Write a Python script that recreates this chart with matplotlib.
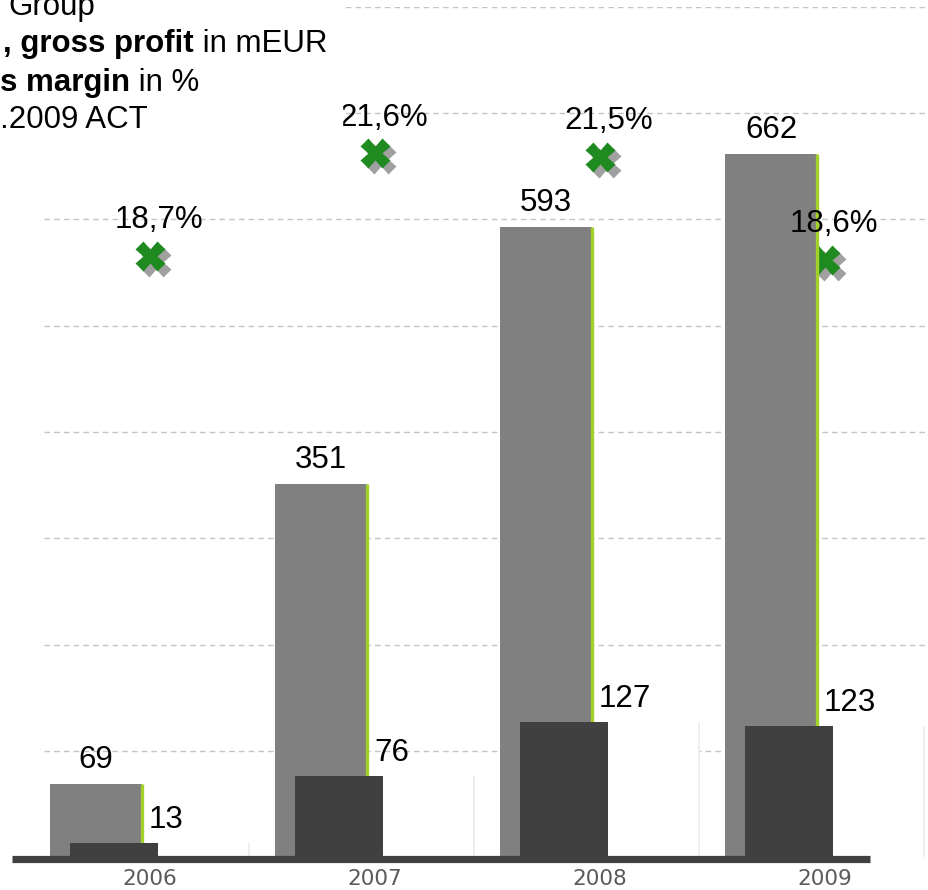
import numpy as np
import matplotlib
matplotlib.use('Agg')
import matplotlib.pyplot as plt
from matplotlib.patches import Rectangle
import matplotlib.transforms as mtransforms

# data
years = ['2006', '2007', '2008', '2009']
revenues = [69, 351, 593, 662]
gross_profit = [13, 76, 127, 123]
gross_margin = [18.7, 21.6, 21.5, 18.6]
margin_labels = ['18,7%', '21,6%', '21,5%', '18,6%']

plt.rcParams['font.family'] = ['Liberation Sans', 'DejaVu Sans']

W, H = 929, 890
fig = plt.figure(figsize=(W / 100, H / 100), dpi=100)

# margin axis underneath, bar axis on top (bars hide the markers a bit)
ax_m = fig.add_axes([0, 33 / H, 1, 850 / H])
ax = ax_m.twinx()

x = np.arange(len(years))
ax_m.set_xlim(-0.667, 3.462)
ax.set_ylim(0, 800)
ax_m.set_ylim(1.78, 25.72)

for a in (ax, ax_m):
    for s in a.spines.values():
        s.set_visible(False)
    a.set_yticks([])
ax.patch.set_visible(False)

# dashed grid
for g in np.arange(100, 900, 100):
    ax.hlines(g, x[0] - 0.47, 3.462, color='#c4c4c4', lw=1,
              linestyle=(0, (4, 3)), zorder=1)

# white "shadow" boxes next to the gross profit bars
ax.bar(x + 0.03, gross_profit, width=0.41, align='edge', color='white',
       edgecolor='none', zorder=2.5)
ax.vlines(x + 0.44, 0, gross_profit, color='#ececec', lw=1.2, zorder=2.6)

# revenues
ax.bar(x - 0.24, revenues, width=0.41, color='#808080', zorder=3)
ax.vlines(x - 0.24 + 0.205, 0, revenues, color='#a2d22a', lw=2.4, zorder=4)

# gross profit
ax.bar(x - 0.16, gross_profit, width=0.39, color='#404040', zorder=5)

# base line
ax.hlines(-1.5, x[0] - 0.613, x[-1] + 0.2, color='#404040', lw=5.2,
          zorder=6, clip_on=False)

fs_val = 22.5
for i in range(len(x)):
    ax.text(x[i] - 0.24, revenues[i] + 15, str(revenues[i]), ha='center',
            va='baseline', fontsize=fs_val, zorder=7)
    ax.text(x[i] - 0.005, gross_profit[i] + 14, str(gross_profit[i]),
            ha='left', va='baseline', fontsize=fs_val, zorder=7)

# gross margin markers with shadow
shadow = ax_m.transData + mtransforms.ScaledTranslation(6 / 100, -6 / 100, fig.dpi_scale_trans)
ax_m.plot(x, gross_margin, 'X', ms=21, color='#a0a0a0', mec='none',
          linestyle='none', transform=shadow, zorder=2)
ax_m.plot(x, gross_margin, 'X', ms=21, color='#1f8a1f', mec='none',
          linestyle='none', zorder=3)
# labels go on the top axes so they sit over the bars
for i in range(len(x)):
    ax.annotate(margin_labels[i], (x[i], gross_margin[i]), xycoords=ax_m.transData,
                xytext=(6.5, 20), textcoords='offset points', ha='center',
                va='baseline', fontsize=fs_val, zorder=8)

ax_m.set_xticks(x, years)
ax_m.tick_params(axis='x', length=0, pad=8.5, labelsize=15.5, labelcolor='#5a5a5a')
for lab in ax_m.get_xticklabels():
    lab.set_family('DejaVu Sans')

# header (cut off on the left in the original)
fig.patches.append(Rectangle((0, 1 - 140 / H), 342 / W, 140 / H,
                             transform=fig.transFigure, color='white', zorder=10))
fs = 22.5
fig.text(8 / W, 1 - 15 / H, 'Group', fontsize=fs, va='baseline', zorder=11)
fig.canvas.draw()
r = fig.canvas.get_renderer()
t = fig.text(3 / W, 1 - 52 / H, ', gross profit', fontsize=fs, weight='bold',
             va='baseline', zorder=11)
bb = t.get_window_extent(r)
fig.text(bb.x1 / W, 1 - 52 / H, ' in mEUR', fontsize=fs, va='baseline', zorder=11)
t = fig.text(0, 1 - 91 / H, 's margin', fontsize=fs, weight='bold',
             va='baseline', zorder=11)
bb = t.get_window_extent(r)
fig.text(bb.x1 / W, 1 - 91 / H, ' in %', fontsize=fs, va='baseline', zorder=11)
fig.text(0, 1 - 128 / H, '.2009 ACT', fontsize=fs, va='baseline', zorder=11)

fig.savefig('out.png', dpi=100)
